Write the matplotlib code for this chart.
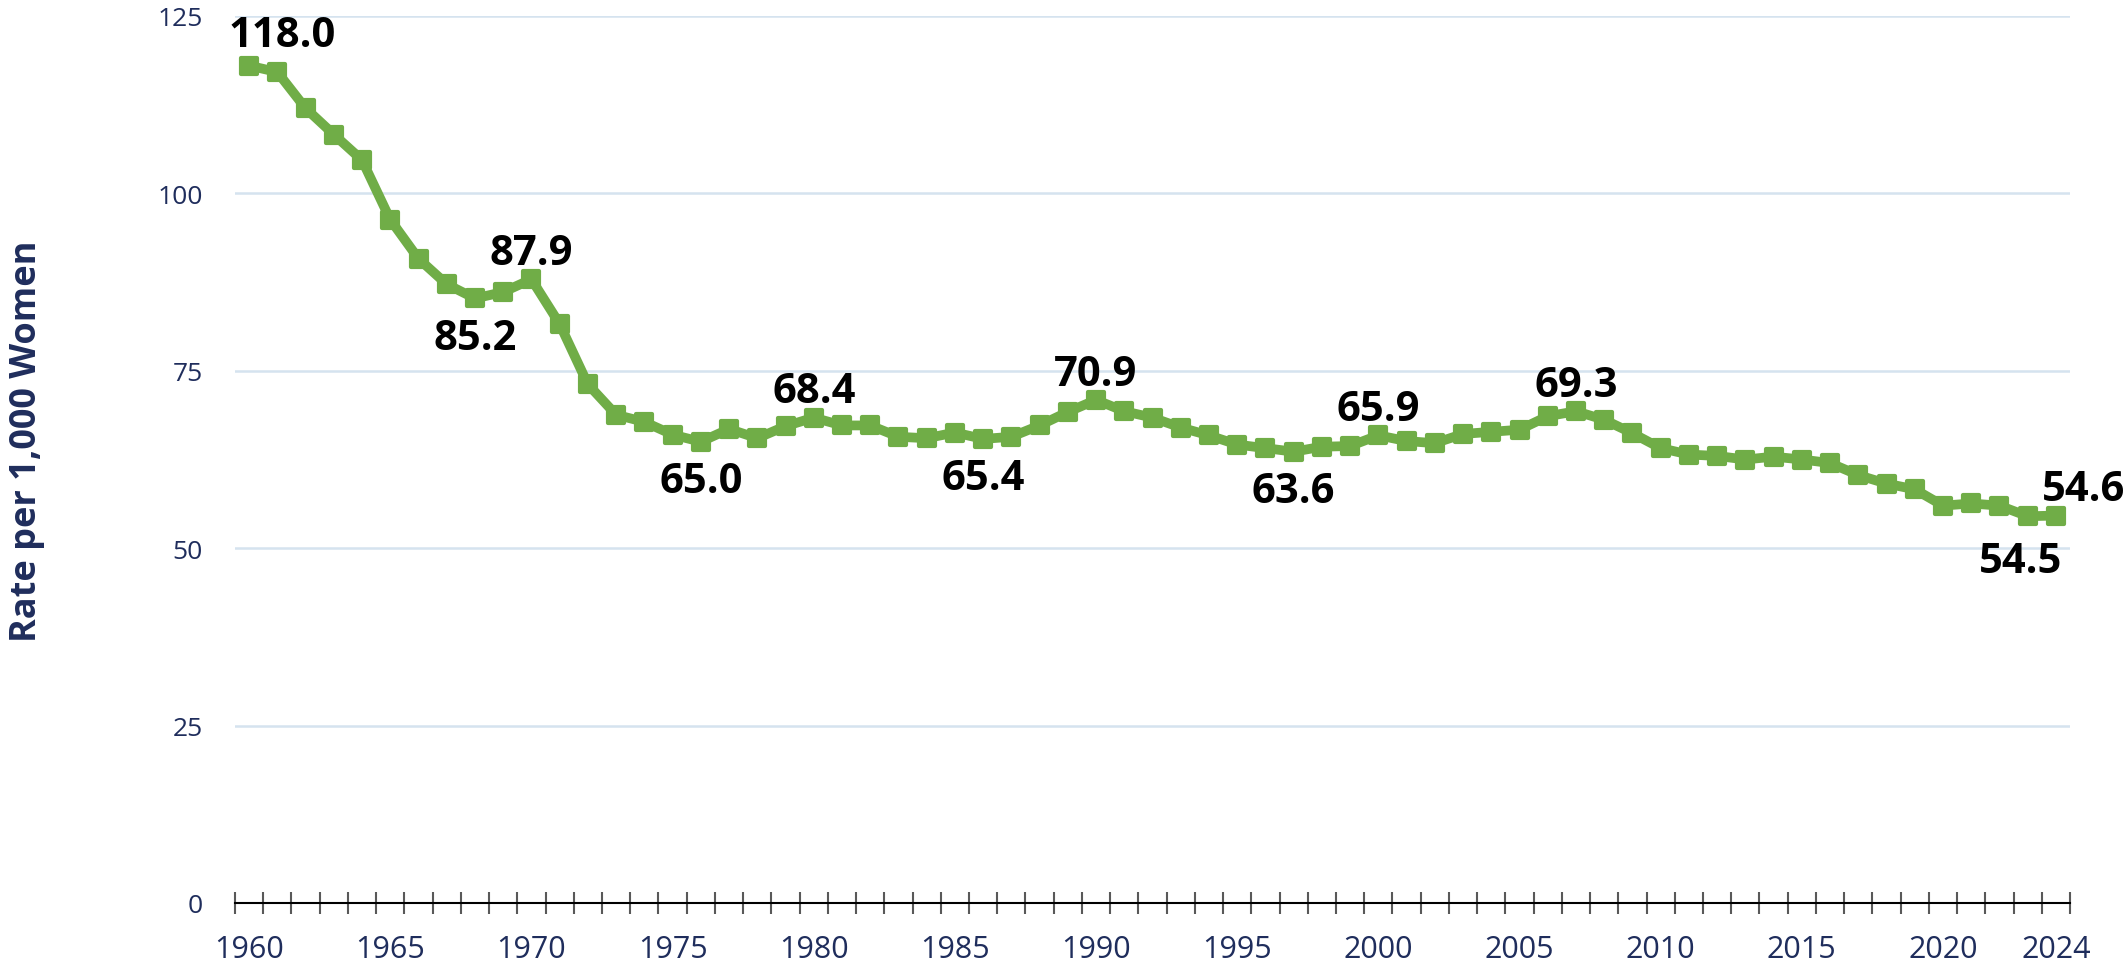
import numpy as np
import matplotlib.pyplot as plt
from matplotlib.markers import MarkerStyle

years = list(range(1960, 2025))
rate = [118.0, 117.1, 112.0, 108.3, 104.7, 96.3, 90.8, 87.2, 85.2, 86.1,
        87.9, 81.6, 73.1, 68.8, 67.8, 66.0, 65.0, 66.8, 65.5, 67.2,
        68.4, 67.3, 67.3, 65.7, 65.5, 66.3, 65.4, 65.7, 67.3, 69.2,
        70.9, 69.3, 68.4, 67.0, 65.9, 64.6, 64.1, 63.6, 64.3, 64.4,
        65.9, 65.1, 64.8, 66.1, 66.4, 66.7, 68.6, 69.3, 68.1, 66.2,
        64.1, 63.2, 63.0, 62.5, 62.9, 62.5, 62.0, 60.3, 59.1, 58.3,
        56.0, 56.3, 56.0, 54.5, 54.6]

# years that get a value label
label_above = [1960, 1970, 1980, 1990, 2000, 2007, 2024]
label_below = [1968, 1976, 1986, 1997, 2023]

yticks = [0, 25, 50, 75, 100, 125]
xlabels = [1960, 1965, 1970, 1975, 1980, 1985, 1990, 1995, 2000,
           2005, 2010, 2015, 2020, 2024]

navy = '#1f2d5c'
green = '#70ad47'

fig = plt.figure(figsize=(21.26, 9.70), dpi=100)
# axes box in pixels: x 235..2070, y 17..904
ax = fig.add_axes([235 / 2126, 1 - 904 / 970, (2070 - 235) / 2126, (904 - 17) / 970])

ax.plot(years, rate, color=green, lw=7, solid_joinstyle='round',
        marker=MarkerStyle('s', joinstyle='round'), ms=11, mew=3,
        mec=green, mfc=green, zorder=3)

lab_font = dict(fontsize=30, fontweight='bold', color='black', family='Open Sans')
for y, v in zip(years, rate):
    if y in label_above:
        if y == 1960:
            dx, dy, ha = 24, 14, 'center'
        elif y == 2024:
            dx, dy, ha = -10, 11.5, 'left'
        else:
            dx, dy, ha = 0, 11, 'center'
        ax.annotate(f'{v:.1f}', (y, v), xytext=(dx, dy), textcoords='offset points',
                    ha=ha, va='baseline', **lab_font)
    elif y in label_below:
        dx, dy = (-5, -18) if y == 2023 else (0, -14)
        ax.annotate(f'{v:.1f}', (y, v), xytext=(dx, dy), textcoords='offset points',
                    ha='center', va='top', **lab_font)

ax.set_xlim(1959.5, 2024.5)
ax.set_ylim(0, 125)
ax.set_yticks(yticks)
ax.set_xticks(xlabels)
ax.set_xticks(np.arange(1959.5, 2025, 1), minor=True)
ax.grid(axis='y', color='#d5e3ef', lw=1.8)
ax.set_axisbelow(True)

for s in ['top', 'right', 'left']:
    ax.spines[s].set_visible(False)
ax.spines['bottom'].set_color('black')
ax.spines['bottom'].set_linewidth(1.5)

ax.tick_params(axis='x', which='minor', direction='inout', length=16, width=1.5,
               color='#595959')
ax.tick_params(axis='x', which='major', length=0, pad=22, labelsize=22,
               labelcolor=navy)
ax.tick_params(axis='y', length=0, pad=23, labelsize=19, labelcolor=navy)
for t in ax.get_xticklabels() + ax.get_yticklabels():
    t.set_family('Open Sans')

fig.text(27 / 2126, 1 - 441 / 970, 'Rate per 1,000 Women', rotation=90,
         ha='center', va='center', fontsize=26, fontweight='bold', color=navy,
         family='Open Sans')

fig.savefig('out.png', dpi=100)
